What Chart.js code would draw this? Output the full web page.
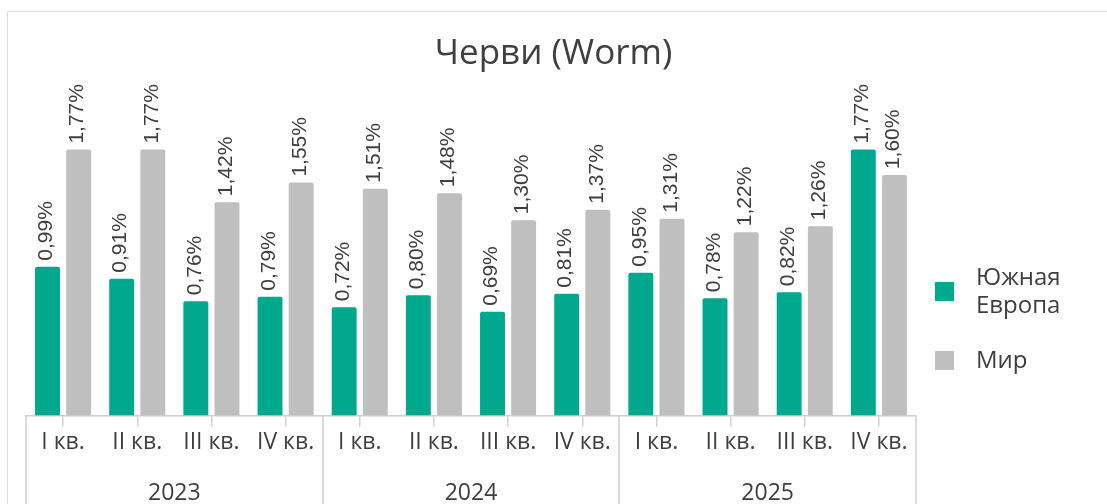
<!DOCTYPE html>
<html lang="ru">
<head>
<meta charset="utf-8">
<title>Черви (Worm)</title>
<script src="https://cdn.jsdelivr.net/npm/chart.js@4"></script>
<style>
    html, body { margin: 0; padding: 0; background: #fff; }
    #wrap { position: relative; width: 1107px; height: 504px; }
</style>
</head>
<body>
<div id="wrap">
    <canvas id="wormChart" width="1107" height="504"></canvas>
</div>
<script>
const quarters = ["I кв.", "II кв.", "III кв.", "IV кв.", "I кв.", "II кв.", "III кв.", "IV кв.", "I кв.", "II кв.", "III кв.", "IV кв."];
const years = ["2023", "2024", "2025"];
const southEurope = [0.99, 0.91, 0.76, 0.79, 0.72, 0.80, 0.69, 0.81, 0.95, 0.78, 0.82, 1.77];
const world = [1.77, 1.77, 1.42, 1.55, 1.51, 1.48, 1.30, 1.37, 1.31, 1.22, 1.26, 1.60];
const seriesNames = [["Южная", "Европа"], ["Мир"]];

const GREEN = "#00a88e";
const GREY = "#bfbfbf";
const TEXT = "#3f3f3f";
const LINE = "#cfcfcf";
const FONT = "'Open Sans', 'Noto Sans', sans-serif";

const fmt = v => v.toFixed(2).replace(".", ",") + "%";

// outer frame
const framePlugin = {
    id: "frame",
    beforeDraw(chart) {
        const ctx = chart.ctx;
        ctx.save();
        ctx.strokeStyle = "#dcdcdc";
        ctx.lineWidth = 1;
        ctx.beginPath();
        ctx.moveTo(7.5, chart.height);
        ctx.lineTo(7.5, 11.5);
        ctx.lineTo(chart.width, 11.5);
        ctx.stroke();
        ctx.restore();
    }
};

// rotated value labels above bars
const valueLabels = {
    id: "valueLabels",
    afterDatasetsDraw(chart) {
        const ctx = chart.ctx;
        ctx.save();
        ctx.font = "21px 'Liberation Sans', Arial, sans-serif";
        ctx.fillStyle = TEXT;
        ctx.textAlign = "left";
        ctx.textBaseline = "middle";
        chart.data.datasets.forEach((ds, i) => {
            chart.getDatasetMeta(i).data.forEach((bar, j) => {
                ctx.save();
                ctx.translate(bar.x - 1, bar.y - 6);
                ctx.rotate(-Math.PI / 2);
                ctx.fillText(fmt(ds.data[j]), 0, 0);
                ctx.restore();
            });
        });
        ctx.restore();
    }
};

// year row: separators and year names under the quarter labels
const yearRow = {
    id: "yearRow",
    afterDraw(chart) {
        const ctx = chart.ctx;
        const x = chart.scales.x;
        const top = chart.chartArea.bottom;
        ctx.save();
        ctx.strokeStyle = LINE;
        ctx.lineWidth = 1.5;
        [-0.5, 3.5, 7.5, 11.5].forEach(v => {
            const px = Math.round(x.getPixelForValue(v));
            ctx.beginPath();
            ctx.moveTo(px, top);
            ctx.lineTo(px, chart.height);
            ctx.stroke();
        });
        ctx.font = "23px " + FONT;
        ctx.fillStyle = TEXT;
        ctx.textAlign = "center";
        ctx.textBaseline = "middle";
        years.forEach((y, i) => {
            ctx.fillText(y, x.getPixelForValue(i * 4 + 1.5), top + 78);
        });
        ctx.restore();
    }
};

// legend on the right
const sideLegend = {
    id: "sideLegend",
    afterDraw(chart) {
        const ctx = chart.ctx;
        const left = chart.chartArea.right + 19;
        const rows = [{ y: 292, color: GREEN }, { y: 361, color: GREY }];
        ctx.save();
        ctx.font = "24px " + FONT;
        ctx.textBaseline = "middle";
        chart.data.datasets.forEach((ds, i) => {
            const r = rows[i];
            ctx.fillStyle = r.color;
            ctx.fillRect(left, r.y - 10, 19, 19);
            ctx.fillStyle = TEXT;
            const lines = seriesNames[i];
            lines.forEach((t, k) => {
                const ty = r.y + (k - (lines.length - 1) / 2) * 28;
                ctx.fillText(t, left + 41, ty);
            });
        });
        ctx.restore();
    }
};

// empty side axes just reserve room (left gutter, legend column)
const hiddenSide = width => ({
    display: true,
    ticks: { display: false },
    grid: { display: false },
    border: { display: false },
    afterFit: scale => { scale.width = width; }
});

const ctx = document.getElementById("wormChart").getContext("2d");

new Chart(ctx, {
    type: "bar",
    data: {
        labels: quarters,
        datasets: [
            {
                label: "Южная Европа",
                data: southEurope,
                backgroundColor: GREEN,
                borderRadius: 2,
                borderSkipped: "bottom",
                barPercentage: 0.8,
                categoryPercentage: 0.84
            },
            {
                label: "Мир",
                data: world,
                backgroundColor: GREY,
                borderRadius: 2,
                borderSkipped: "bottom",
                barPercentage: 0.8,
                categoryPercentage: 0.84
            }
        ]
    },
    options: {
        responsive: false,
        animation: false,
        layout: {
            padding: { left: 0, right: 0, top: 0, bottom: 46 }
        },
        plugins: {
            legend: { display: false },
            tooltip: { enabled: false },
            title: {
                display: true,
                text: "Черви (Worm)",
                color: TEXT,
                font: { family: FONT, size: 35, weight: "normal" },
                padding: { top: 33, bottom: 10 }
            }
        },
        scales: {
            y: Object.assign(hiddenSide(26), { position: "left", min: 0, max: 2.2 }),
            side: Object.assign(hiddenSide(191), { axis: "y", position: "right", min: 0, max: 1 }),
            x: {
                position: "bottom",
                grid: {
                    offset: false,
                    drawOnChartArea: false,
                    tickLength: 11,
                    color: LINE,
                    lineWidth: 1.5
                },
                border: { color: LINE, width: 1.5 },
                ticks: {
                    color: TEXT,
                    padding: 2,
                    maxRotation: 0,
                    autoSkip: false,
                    font: { family: FONT, size: 23 }
                }
            }
        }
    },
    plugins: [framePlugin, valueLabels, yearRow, sideLegend]
});
</script>
</body>
</html>
